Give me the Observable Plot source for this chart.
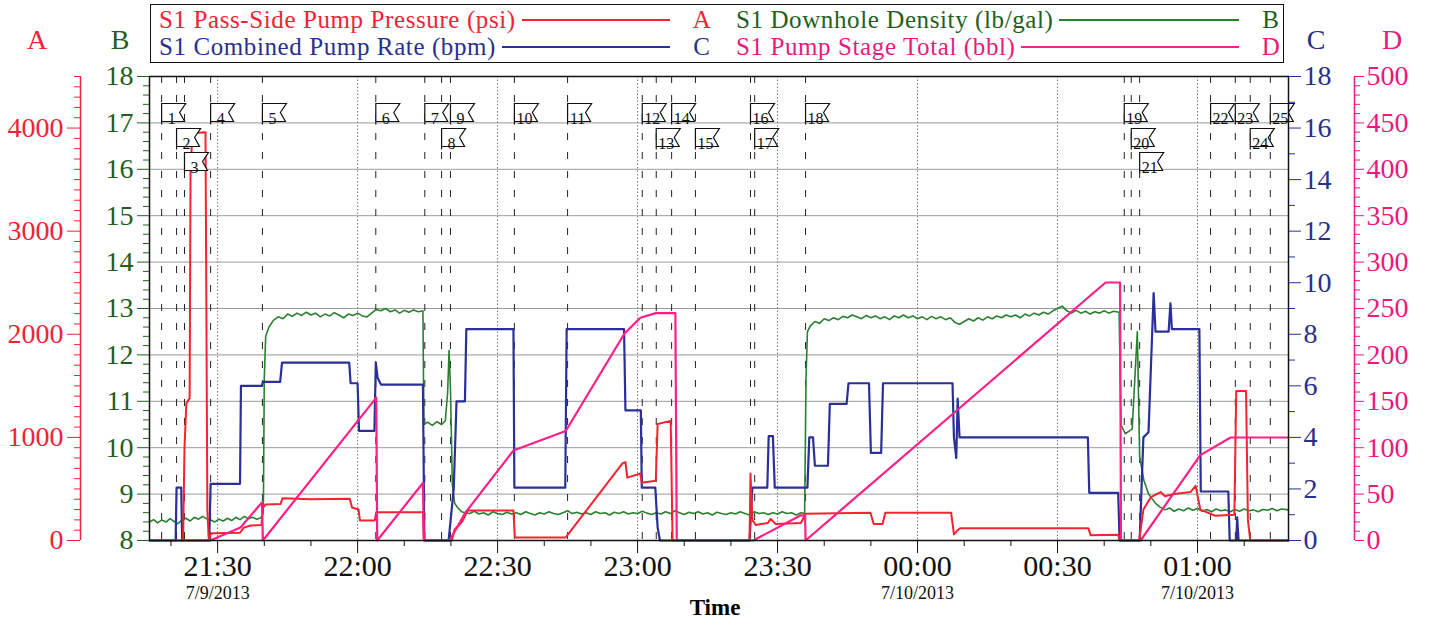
<!DOCTYPE html>
<html><head><meta charset="utf-8">
<script src="https://cdn.jsdelivr.net/npm/d3@7"></script>
<script src="https://cdn.jsdelivr.net/npm/@observablehq/plot@0.6"></script>
<style>
body{margin:0;background:#fff;font-family:"Liberation Serif",serif}
#wrap{position:relative;width:1429px;height:625px;overflow:hidden;background:#fff}
#legend{position:absolute;left:150px;top:4px;width:1134px;height:59px;border:1.5px solid #111;box-sizing:border-box;
  display:grid;grid-template-columns:553px 545px;column-gap:24px;grid-template-rows:27px 27px;padding-left:8px;padding-top:1px}
.cell{display:flex;align-items:center;font-size:25px;letter-spacing:0.6px;white-space:nowrap}
.cell .ln{flex:1;height:2px;margin:0 22px 0 6px}
.cell .let{width:20px;text-align:center}
.ax{position:absolute;top:24px;font-size:28px;transform:translateX(-50%)}
#timeLbl{position:absolute;left:715px;top:595px;font-size:23px;font-weight:bold;transform:translateX(-50%)}
</style></head>
<body><div id="wrap"></div>
<script>
// ---------- data (time = minutes after 21:00 on 7/9/2013) ----------
const seriesNames = ["S1 Pass-Side Pump Pressure (psi)","S1 Combined Pump Rate (bpm)","S1 Downhole Density (lb/gal)","S1 Pump Stage Total (bbl)"];
const seriesAxes = ["A","C","B","D"];

const pressure = [[15.4,0],[22.6,0],[22.9,900],[23.3,1330],[24.0,1380],[24.2,3600],[24.6,3950],[27.4,3960],[27.8,300],[28.1,0],[28.4,60],[28.9,70],[34.8,75],[35.6,125],[37.1,145],[39.4,150],[39.7,320],[40.3,350],[43.5,355],[43.9,410],[50,400],[58.3,405],[58.8,320],[60.2,300],[60.5,195],[63.7,195],[64.0,275],[74.0,275],[74.2,0],[80.2,0],[80.8,110],[81.6,140],[82.5,190],[83.6,290],[93.4,290],[93.7,30],[104.6,30],[116.8,750],[117.4,760],[117.8,610],[120.6,650],[120.9,560],[123.9,580],[124.3,1130],[127.1,1160],[127.5,0],[144.0,0],[144.2,650],[144.6,200],[145.3,150],[147.9,170],[148.5,210],[149.6,160],[155.0,170],[156.0,260],[169.9,270],[170.6,160],[172.5,160],[173.1,270],[187.2,270],[187.8,60],[188.6,100],[189.2,120],[216.6,120],[217.1,50],[223.0,55],[223.3,0],[227.5,0],[228.4,300],[230,420],[232.1,470],[233,430],[235,450],[238.5,470],[239.6,530],[240.6,300],[243.8,240],[247.9,250],[248.3,1450],[250.4,1450],[250.8,200],[251.3,0],[259.5,0]];

const rate = [[15.4,0],[21.0,0],[21.2,2.05],[22.2,2.05],[22.4,0],[28.2,0],[28.5,2.2],[34.8,2.2],[35.0,6.0],[39.5,6.0],[39.7,6.15],[43.4,6.15],[43.8,6.9],[58.2,6.9],[58.5,6.1],[60.0,6.1],[60.3,4.25],[63.6,4.25],[63.9,6.9],[64.3,6.3],[65.0,6.05],[74.0,6.05],[74.3,0],[79.5,0],[80.6,2.0],[81.2,5.4],[83.0,5.4],[83.3,8.2],[93.4,8.2],[93.6,2.05],[104.5,2.05],[104.8,8.2],[117.1,8.2],[117.4,5.05],[120.7,5.05],[120.9,2.05],[123.8,2.05],[124.3,0.5],[124.8,0],[144.0,0],[144.6,2.05],[147.8,2.05],[148.1,4.05],[149.0,4.05],[149.4,2.05],[156.4,2.05],[156.8,4.0],[157.6,4.0],[158.0,2.9],[160.8,2.9],[161.2,5.3],[164.8,5.3],[165.2,6.1],[169.6,6.1],[170.0,3.4],[172.2,3.4],[172.6,6.1],[187.5,6.1],[187.8,4.0],[188.3,3.2],[188.6,5.5],[189.0,4.0],[216.5,4.0],[216.8,1.85],[223.0,1.85],[223.3,0],[227.6,0],[228.4,4.0],[229.5,4.2],[230.6,9.6],[231.0,8.1],[233.8,8.1],[234.2,9.2],[234.5,8.2],[240.4,8.2],[240.7,1.9],[246.6,1.9],[246.9,0],[248.3,0],[248.5,0.9],[248.8,0],[259.5,0]];

const density = [[15.4,8.40],[16.3,8.45],[17.1,8.38],[18.0,8.44],[19.0,8.40],[19.8,8.47],[20.7,8.41],[21.5,8.36],[22.4,8.45],[23.2,8.48],[24.1,8.42],[25.0,8.50],[25.9,8.46],[26.8,8.52],[27.6,8.47],[28.5,8.44],[29.4,8.40],[30.3,8.46],[31.2,8.42],[32.1,8.48],[33.0,8.43],[33.9,8.50],[34.8,8.45],[35.7,8.52],[36.6,8.47],[37.5,8.50],[38.4,8.46],[39.3,8.49],[39.8,8.6],[40.0,11.5],[40.3,12.4],[41.0,12.6],[42.0,12.75],[43.0,12.82],[44,12.78],[45,12.88],[46,12.83],[47,12.9],[48,12.85],[49,12.92],[50,12.86],[51,12.9],[52,12.82],[53,12.88],[54,12.84],[55,12.91],[56,12.86],[57,12.8],[58,12.88],[59,12.85],[60,12.9],[61,12.84],[62,12.82],[63,12.9],[64.0,12.98],[65,12.95],[66,13.0],[67,12.93],[68,12.97],[69,12.9],[70,12.96],[71,12.92],[72,12.97],[73,12.93],[74.0,12.95],[74.2,10.5],[75,10.55],[76,10.48],[77,10.56],[78,10.5],[78.8,10.58],[79.3,11.2],[79.6,12.1],[79.9,11.3],[80.3,9.2],[80.8,8.8],[81.5,8.7],[82.3,8.62],[83,8.6],[84,8.58],[85,8.63],[86,8.57],[87,8.6],[88,8.55],[89,8.62],[90,8.58],[91,8.56],[92,8.61],[93,8.57],[94,8.6],[95,8.56],[96,8.62],[97,8.58],[98,8.55],[99,8.6],[100,8.57],[101,8.62],[102,8.58],[103,8.56],[104,8.6],[105,8.64],[106,8.58],[107,8.61],[108,8.57],[109,8.6],[110,8.56],[111,8.62],[112,8.58],[113,8.6],[114,8.55],[115,8.61],[116,8.58],[117,8.62],[118,8.57],[119,8.6],[120,8.58],[121,8.63],[122,8.59],[123,8.56],[124,8.6],[125,8.57],[126,8.62],[127,8.58],[128,8.64],[129,8.6],[130,8.56],[131,8.61],[132,8.58],[133,8.62],[134,8.57],[135,8.6],[136,8.55],[137,8.61],[138,8.58],[139,8.56],[140,8.6],[141,8.57],[142,8.62],[143,8.58],[144,8.55],[145,8.62],[146,8.58],[147,8.6],[148,8.56],[149,8.6],[150,8.57],[151,8.62],[152,8.58],[153,8.6],[154,8.55],[155,8.6],[155.8,8.58],[156.1,11.5],[156.4,12.5],[157,12.62],[158,12.72],[159,12.68],[160,12.78],[161,12.74],[162,12.8],[163,12.76],[164,12.83],[165,12.8],[166,12.86],[167,12.82],[168,12.78],[169,12.85],[170,12.8],[171,12.84],[172,12.78],[173,12.82],[174,12.76],[175,12.84],[176,12.8],[177,12.86],[178,12.8],[179,12.84],[180,12.78],[181,12.82],[182,12.76],[183,12.83],[184,12.78],[185,12.82],[186,12.76],[187,12.8],[188,12.7],[189,12.66],[190,12.72],[191,12.78],[192,12.73],[193,12.8],[194,12.75],[195,12.82],[196,12.78],[197,12.84],[198,12.8],[199,12.86],[200,12.82],[201,12.86],[202,12.8],[203,12.88],[204,12.84],[205,12.9],[206,12.86],[207,12.92],[208,12.88],[209,12.95],[210,13.0],[211,13.05],[212,12.95],[213,12.9],[214,12.96],[215,12.9],[216,12.94],[217,12.88],[218,12.93],[219,12.9],[220,12.95],[221,12.9],[222,12.94],[223.2,12.92],[223.6,10.5],[224.5,10.3],[226,10.4],[227.1,12.5],[227.6,9.8],[228.5,9.3],[229.5,9.0],[231,8.8],[232,8.72],[233,8.66],[234,8.7],[235,8.63],[236,8.68],[237,8.64],[238,8.7],[239,8.65],[240,8.69],[241,8.63],[242,8.67],[243,8.62],[244,8.68],[245,8.64],[246,8.66],[247,8.62],[248,8.67],[249,8.63],[250,8.68],[251,8.64],[252,8.66],[253,8.62],[254,8.67],[255,8.65],[256,8.69],[257,8.64],[258,8.68],[259.5,8.66]];

const stageTotal = [[15.4,0],[28.4,0],[34.9,14],[39.5,41],[39.7,0],[64.0,154],[64.2,0],[74.0,62],[74.2,0],[79.7,0],[83.1,30],[93.4,97],[104.6,118],[117.2,223],[120.6,240],[123.9,245],[128.1,245],[128.4,0],[144.8,0],[154.9,27],[155.9,27],[156.0,0],[220.3,278],[223.4,278],[223.6,0],[227.8,0],[240.6,92],[247.1,111],[259.5,111]];

const eventTimes = [18.0,21.2,22.9,28.5,39.6,63.9,74.4,78.0,79.9,93.6,105.0,121.0,124.0,127.3,132.4,144.2,145.1,156.0,224.3,225.8,227.6,242.8,248.1,251.3,255.6];
const eventRows  = [1,2,3,1,1,1,1,2,1,1,1,1,2,1,2,1,2,1,1,2,3,1,1,2,1];

const timeDomain = [15.4, 259.5];
const bTicks = [8,9,10,11,12,13,14,15,16,17,18];
const aTicks = [0,1000,2000,3000,4000];
const cTicks = [0,2,4,6,8,10,12,14,16,18];
const dTicks = [0,50,100,150,200,250,300,350,400,450,500];
const dateLabels = [[30,"7/9/2013"],[180,"7/10/2013"],[240,"7/10/2013"]];

// ---------- helpers ----------
const base = Date.UTC(2013,6,9,21,0,0);
const T = m => new Date(base + m*60000);
const aMax = 4500, cMax = 18, dMax = 500;       // other scales mapped onto B [8,18]
const fromA = v => 8 + v*10/aMax;
const fromC = v => 8 + v*10/cMax;
const fromD = v => 8 + v*10/dMax;

const colA = "#ee2436", colB = "#1f5f22", colC = "#2a2f8c", colD = "#ea1a7c";
const lineA = "#f5222f", lineB = "#2b8030", lineC = "#2b2f98", lineD = "#ff1f86";
const FONT = "Liberation Serif";

const events = eventTimes.map((t,i)=>({t:T(t), row:eventRows[i], label:String(i+1)}));
const halfHours = d3.range(30, 259, 30).map(T);
const tenMins = d3.range(20, 259, 10).filter(m=>m%30!==0).map(T);

const flag = {draw(ctx){ const w=23,h=18; ctx.moveTo(0,h+3); ctx.lineTo(0,0); ctx.lineTo(w+1,0); ctx.lineTo(w-5,h/2); ctx.lineTo(w,h); ctx.lineTo(0,h); }};
const rowDy = {1:27, 2:52, 3:76};

const minorRange = (lo,hi,step,skip)=>d3.range(lo,hi+step/2,step).map(v=>+v.toFixed(4)).filter(v=>Math.abs(v/skip-Math.round(v/skip))>1e-6);

const marks = [
  Plot.ruleY(bTicks.slice(1,-1), {stroke:"#9a9a9a", strokeWidth:1}),
  Plot.ruleX(halfHours, {stroke:"#777", strokeWidth:1, strokeDasharray:"1.5,2"}),
  Plot.ruleX(events, {x:"t", stroke:"#222", strokeWidth:1, strokeDasharray:"7,12"}),
  Plot.line(density, {x:d=>T(d[0]), y:d=>d[1], stroke:lineB, strokeWidth:1.6}),
  Plot.line(rate, {x:d=>T(d[0]), y:d=>fromC(d[1]), stroke:lineC, strokeWidth:2.2}),
  Plot.line(pressure, {x:d=>T(d[0]), y:d=>fromA(d[1]), stroke:lineA, strokeWidth:2}),
  Plot.line(stageTotal, {x:d=>T(d[0]), y:d=>fromD(d[1]), stroke:lineD, strokeWidth:2.2}),
];
for (const r of [1,2,3]) {
  const ev = events.filter(e=>e.row===r);
  marks.push(Plot.dot(ev, {x:"t", frameAnchor:"top", dy:rowDy[r], symbol:flag, fill:"white", stroke:"#111", strokeWidth:1.2}));
  marks.push(Plot.text(ev, {x:"t", text:"label", frameAnchor:"top", dy:rowDy[r]+9, dx:10, fontSize:16, fill:"#111", fontFamily:FONT}));
}
marks.push(
  Plot.frame({stroke:"#111", strokeWidth:1.5}),
  // B axis (left, on frame)
  Plot.axisY(bTicks, {anchor:"left", label:null, tickSize:12, tickPadding:4, fontSize:28, color:colB, fontFamily:FONT}),
  Plot.axisY(minorRange(8,18,0.2,1), {anchor:"left", label:null, tickSize:6, tickFormat:()=>"", color:colB}),
  // A axis (far left)
  Plot.ruleX([T(timeDomain[0])], {dx:-69, y1:8, y2:18, stroke:colA, strokeWidth:1.5}),
  Plot.axisY(aTicks.map(fromA), {anchor:"left", label:null, dx:-69, tickSize:13, tickPadding:4, fontSize:28, color:colA, fontFamily:FONT, tickFormat:d=>String(Math.round((d-8)*aMax/10))}),
  Plot.axisY(minorRange(0,4500,100,1000).map(fromA), {anchor:"left", label:null, dx:-69, tickSize:6, tickFormat:()=>"", color:colA}),
  // C axis (right, on frame)
  Plot.axisY(cTicks.map(fromC), {anchor:"right", label:null, tickSize:12, tickPadding:3, fontSize:28, color:colC, fontFamily:FONT, tickFormat:d=>String(Math.round((d-8)*cMax/10))}),
  Plot.axisY(minorRange(0,18,1,2).map(fromC), {anchor:"right", label:null, tickSize:6, tickFormat:()=>"", color:colC}),
  // D axis (far right)
  Plot.ruleX([T(timeDomain[1])], {dx:66, y1:8, y2:18, stroke:colD, strokeWidth:1.5}),
  Plot.axisY(dTicks.map(fromD), {anchor:"right", label:null, dx:66, tickSize:9, tickPadding:3, fontSize:28, color:colD, fontFamily:FONT, tickFormat:d=>String(Math.round((d-8)*dMax/10))}),
  Plot.axisY(minorRange(0,500,10,50).map(fromD), {anchor:"right", label:null, dx:66, tickSize:5, tickFormat:()=>"", color:colD}),
  // time axis
  Plot.axisX(halfHours, {anchor:"bottom", label:null, tickSize:13, tickPadding:1, fontSize:30, color:"#111", fontFamily:FONT, tickFormat:d3.utcFormat("%H:%M")}),
  Plot.axisX(tenMins, {anchor:"bottom", label:null, tickSize:6, tickFormat:()=>"", color:"#111"}),
  Plot.axisX(dateLabels.map(d=>T(d[0])), {anchor:"bottom", label:null, tickSize:0, tickPadding:46, fontSize:18, color:"#111", fontFamily:FONT, tickFormat:(d,i)=>dateLabels[i][1]})
);

const chart = Plot.plot({
  width:1429, height:625,
  marginLeft:149, marginRight:141, marginTop:76, marginBottom:85,
  style:{fontFamily:FONT, background:"transparent"},
  x:{type:"utc", domain:timeDomain.map(T), axis:null, label:null},
  y:{domain:[8,18], axis:null, label:null},
  marks
});

const wrap = document.getElementById("wrap");
wrap.appendChild(chart);

// legend + axis letters
const legend = document.createElement("div");
legend.id = "legend";
const legColors = [lineA, lineC, lineB, lineD];
const txtColors = [colA, colC, colB, colD];
[0,2,1,3].forEach(k=>{
  const c = document.createElement("div");
  c.className = "cell";
  c.style.color = txtColors[k];
  c.innerHTML = `<span>${seriesNames[k]}</span><span class="ln" style="background:${legColors[k]}"></span><span class="let">${seriesAxes[k]}</span>`;
  legend.appendChild(c);
});
wrap.appendChild(legend);
[["A",37,colA],["B",120,colB],["C",1316,colC],["D",1392,colD]].forEach(([t,x,c])=>{
  const s=document.createElement("div"); s.className="ax"; s.textContent=t; s.style.left=x+"px"; s.style.color=c; wrap.appendChild(s);
});
const tl=document.createElement("div"); tl.id="timeLbl"; tl.textContent="Time"; wrap.appendChild(tl);
</script></body></html>
